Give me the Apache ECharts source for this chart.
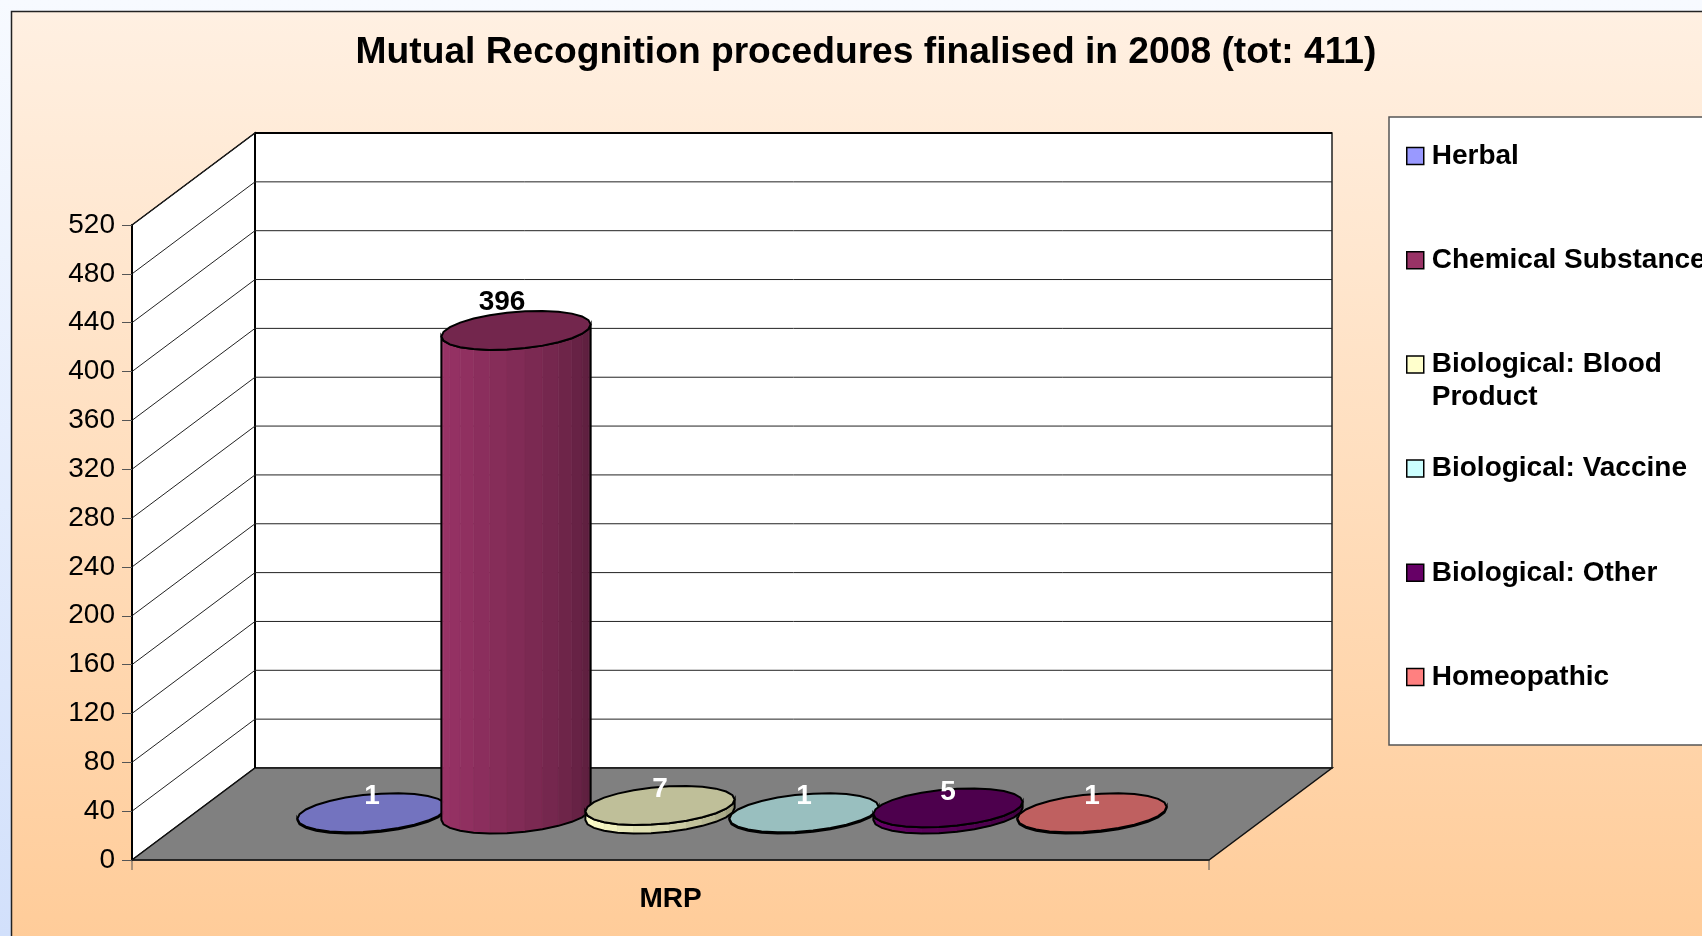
<!DOCTYPE html>
<html>
<head>
<meta charset="utf-8">
<style>html,body{margin:0;padding:0;background:#fff}#c{width:1702px;height:936px}</style>
<script src="https://cdn.jsdelivr.net/npm/echarts@6/dist/echarts.min.js"></script>
</head>
<body>
<div id="c"></div>
<script>
const categories = ['MRP'];
const seriesNames = ['Herbal', 'Chemical Substance', 'Biological: Blood Product', 'Biological: Vaccine', 'Biological: Other', 'Homeopathic'];
const seriesValues = [1, 396, 7, 1, 5, 1];
const seriesColors = ['#9999ff', '#993366', '#ffffcc', '#ccffff', '#660066', '#ff8080'];
const yTicks = [0, 40, 80, 120, 160, 200, 240, 280, 320, 360, 400, 440, 480, 520];
const titleText = 'Mutual Recognition procedures finalised in 2008 (tot: 411)';

const FONT = '"Liberation Sans", Arial, sans-serif';
const DEPTH_X = 123, DEPTH_Y = 92;      // oblique projection of the floor depth
const SLOT = 0.1337;                    // distance between cylinders, share of band
const RX = 71, DX = 23, DY = 19.5;      // cylinder footprint
const FACETS = 26;

function shade(hex, f) {
  const n = parseInt(hex.slice(1), 16);
  const c = [(n >> 16) & 255, (n >> 8) & 255, n & 255].map(v => Math.round(v * f));
  return 'rgb(' + c.join(',') + ')';
}

function renderWall(params, api) {
  const v = api.value(1);
  const p = api.coord([0, v]);
  const band = api.size([1, 0])[0];
  const x0 = p[0] - band / 2, y = p[1];
  const children = [];
  const top = api.coord([0, yTicks[yTicks.length - 1]])[1];
  const thin = { stroke: '#222', lineWidth: 1 };
  const strong = { stroke: '#000', lineWidth: 2 };
  const line = (x1, y1, x2, y2, style) => ({ type: 'line', shape: { x1, y1, x2, y2 }, style });
  if (v === 0) {
    children.push({ type: 'polygon', shape: { points: [[x0 + DEPTH_X, top - DEPTH_Y], [x0 + band + DEPTH_X, top - DEPTH_Y], [x0 + band + DEPTH_X, y - DEPTH_Y], [x0 + DEPTH_X, y - DEPTH_Y]] }, style: { fill: '#fff', stroke: '#222', lineWidth: 1.5 } });
    children.push({ type: 'polygon', shape: { points: [[x0, top], [x0 + DEPTH_X, top - DEPTH_Y], [x0 + DEPTH_X, y - DEPTH_Y], [x0, y]] }, style: { fill: '#fff', stroke: '#000', lineWidth: 1.5 } });
    children.push({ type: 'polygon', shape: { points: [[x0, y], [x0 + DEPTH_X, y - DEPTH_Y], [x0 + band + DEPTH_X, y - DEPTH_Y], [x0 + band, y]] }, style: { fill: '#808080', stroke: '#111', lineWidth: 1.5 } });
    children.push(line(x0 + DEPTH_X, top - DEPTH_Y, x0 + DEPTH_X, y - DEPTH_Y, strong));
    children.push(line(x0, y, x0, y + 10, { stroke: '#555', lineWidth: 1 }));
    children.push(line(x0 + band, y, x0 + band, y + 10, { stroke: '#555', lineWidth: 1 }));
  } else {
    children.push(line(x0, y, x0 + DEPTH_X, y - DEPTH_Y, thin));
    children.push(line(x0 + DEPTH_X, y - DEPTH_Y, x0 + band + DEPTH_X, y - DEPTH_Y, v === yTicks[yTicks.length - 1] ? strong : thin));
  }
  return { type: 'group', children };
}

function makeCylinder(index, color) {
  return function (params, api) {
    const base = api.coord([api.value(0), 0]);
    const topY = api.coord([api.value(0), api.value(1)])[1];
    const band = api.size([1, 0])[0];
    const h = base[1] - topY;
    const cx = base[0] + (index - (seriesNames.length - 1) / 2) * band * SLOT + DEPTH_X / 2;
    const cy = base[1] - DEPTH_Y / 2;
    const start = Math.PI + Math.atan(DX / RX);
    const pts = [];
    for (let k = 0; k < FACETS; k++) {
      const t = start + k * 2 * Math.PI / FACETS;
      pts.push([cx + RX * Math.cos(t) + DX * Math.sin(t), cy - DY * Math.sin(t)]);
    }
    const half = FACETS / 2;
    const children = [];
    for (let k = 0; k < half; k++) {
      const a = pts[k], b = pts[k + 1];
      const f = 1 - 0.42 * Math.pow(k / (half - 1), 1.4);
      const fill = shade(color, f);
      children.push({ type: 'polygon', shape: { points: [[a[0], a[1]], [b[0], b[1]], [b[0], b[1] - h], [a[0], a[1] - h]] }, style: { fill, stroke: fill, lineWidth: 0.6 } });
    }
    const outline = pts.slice(0, half + 1).concat(pts.slice(0, half + 1).reverse().map(p => [p[0], p[1] - h]));
    children.push({ type: 'polygon', shape: { points: outline }, style: { fill: 'none', stroke: '#000', lineWidth: 2 } });
    children.push({ type: 'polygon', shape: { points: pts.map(p => [p[0], p[1] - h]) }, style: { fill: shade(color, 0.75), stroke: '#000', lineWidth: 2 } });
    const big = h > 100;
    children.push({ type: 'text', style: { text: String(api.value(1)), x: cx + (big ? -14 : 0), y: cy - h - (big ? 28 : 16), fill: big ? '#000' : '#fff', font: 'bold 28px ' + FONT, textAlign: 'center', textVerticalAlign: 'middle' } });
    return { type: 'group', children };
  };
}

const chart = echarts.init(document.getElementById('c'), null, { renderer: 'canvas', width: 1702, height: 936 });
chart.setOption({
  animation: false,
  backgroundColor: new echarts.graphic.LinearGradient(0, 0, 0, 1, [{ offset: 0, color: '#f7faff' }, { offset: 1, color: '#d2e0fb' }]),
  graphic: [
    { type: 'rect', z: -10, shape: { x: 11.5, y: 11.5, width: 1760, height: 1000 }, style: { fill: new echarts.graphic.LinearGradient(0, 0, 0, 0.93, [{ offset: 0, color: '#fff0e2' }, { offset: 1, color: '#ffcc99' }]), stroke: '#222', lineWidth: 1.5 } },
    { type: 'rect', z: -9, shape: { x: 1389, y: 117, width: 400, height: 628 }, style: { fill: '#fff', stroke: '#555', lineWidth: 1.5 } }
  ],
  title: {
    text: titleText, left: 861, top: 29, textAlign: 'center',
    textStyle: { fontFamily: FONT, fontWeight: 'bold', fontSize: 37.2, color: '#000' }
  },
  legend: {
    orient: 'vertical', left: 1406, top: 106.5, padding: 0, itemGap: 5.2, itemWidth: 17, itemHeight: 17,
    icon: 'rect', selectedMode: false,
    data: seriesNames,
    itemStyle: { borderColor: '#000', borderWidth: 1.5 },
    formatter: function (name) {
      const n = name === 'Biological: Blood Product' ? 'Biological: Blood\nProduct' : name + '\n ';
      return ' \n' + n;
    },
    textStyle: { fontFamily: FONT, fontWeight: 'bold', fontSize: 28, lineHeight: 33, color: '#000', padding: [0, 0, 0, 3] }
  },
  grid: { left: 132, right: 493, top: 225, bottom: 76 },
  xAxis: {
    type: 'category', data: categories, z: 5,
    axisLine: { lineStyle: { color: '#222', width: 1.5 } },
    axisTick: { show: false },
    axisLabel: { fontFamily: FONT, fontWeight: 'bold', fontSize: 28, color: '#000', margin: 25 }
  },
  yAxis: {
    type: 'value', min: 0, max: 520, interval: 40, z: 5,
    axisLine: { show: true, lineStyle: { color: '#000', width: 2 } },
    axisTick: { show: true, length: 10, lineStyle: { color: '#555', width: 1 } },
    axisLabel: { fontFamily: FONT, fontSize: 28, color: '#000', margin: 17, padding: [6, 0, 0, 0] },
    splitLine: { show: false }
  },
  tooltip: { show: false },
  series: seriesNames.map((name, i) => ({
    name, type: 'custom', z: 3, coordinateSystem: 'cartesian2d',
    itemStyle: { color: seriesColors[i] },
    encode: { x: 0, y: 1 },
    renderItem: makeCylinder(i, seriesColors[i]),
    data: [[0, seriesValues[i]]]
  })).concat([{
    name: 'walls', type: 'custom', z: 1, coordinateSystem: 'cartesian2d',
    encode: { x: 0, y: 1 },
    renderItem: renderWall,
    data: yTicks.map(v => [0, v])
  }])
});
</script>
</body>
</html>
